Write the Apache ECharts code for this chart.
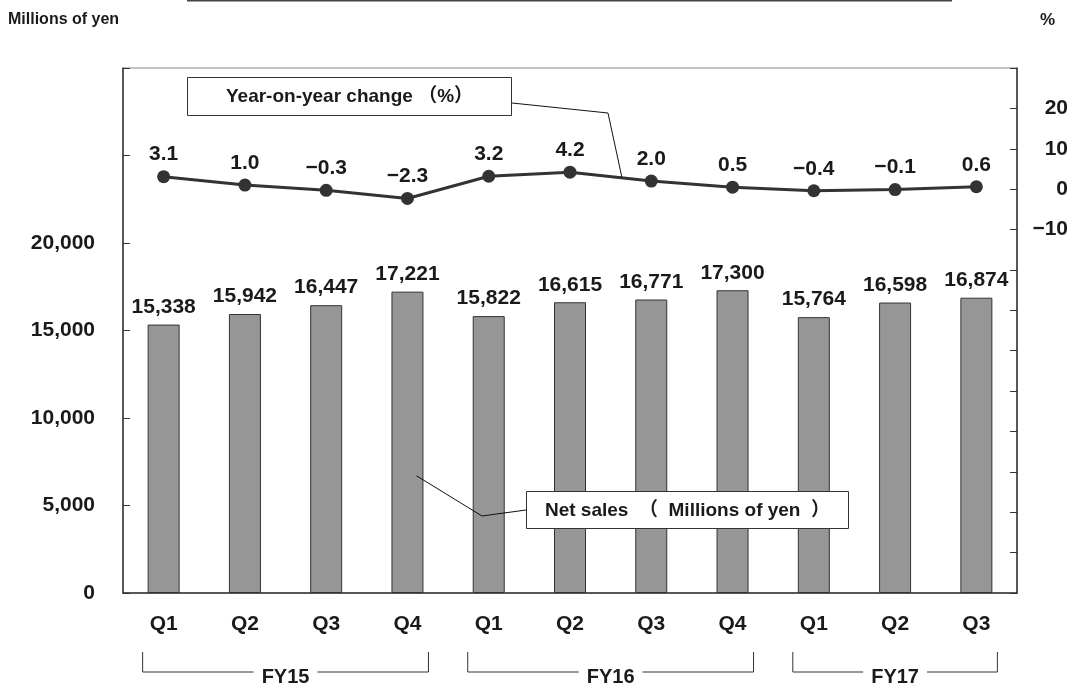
<!DOCTYPE html>
<html>
<head>
<meta charset="utf-8">
<title>Net sales and year-on-year change</title>
<script src="https://cdn.jsdelivr.net/npm/echarts@6/dist/echarts.min.js"></script>
<style>
  html, body { margin: 0; padding: 0; background: #fff; }
  #chart { width: 1067px; height: 695px; }
</style>
</head>
<body>
<div id="chart"></div>
<script>
// Quarterly net sales (millions of yen) and year-on-year change (%)
const quarters = ['Q1', 'Q2', 'Q3', 'Q4', 'Q1', 'Q2', 'Q3', 'Q4', 'Q1', 'Q2', 'Q3'];
const netSales = [15338, 15942, 16447, 17221, 15822, 16615, 16771, 17300, 15764, 16598, 16874];
const yoyChange = [3.1, 1.0, -0.3, -2.3, 3.2, 4.2, 2.0, 0.5, -0.4, -0.1, 0.6];

// Fiscal-year groups under the category axis: [first index, last index]
const fiscalYears = ['FY15', 'FY16', 'FY17'];
const fiscalSpans = [[0, 3], [4, 7], [8, 10]];

// Tick values that carry a label on each value axis
const salesTickLabels = [0, 5000, 10000, 15000, 20000];
const changeTickLabels = [-10, 0, 10, 20];

const FONT = "'Liberation Sans', Arial, 'Noto Sans CJK JP', sans-serif";
const INK = '#1a1a1a';
const LABEL_SIZE = 21;

const fmtSigned = (v, digits) => (v < 0 ? '\u2212' : '') + Math.abs(v).toFixed(digits);

const chart = echarts.init(document.getElementById('chart'), null, { renderer: 'canvas' });

chart.setOption({
  backgroundColor: '#fff',
  animation: false,
  textStyle: { fontFamily: FONT },
  grid: {
    left: 123, right: 50, top: 68, bottom: 102,
    containLabel: false, outerBoundsMode: 'none',
    show: true, borderColor: '#8a8a8a', borderWidth: 1, backgroundColor: '#fff'
  },
  xAxis: {
    type: 'category',
    data: quarters,
    boundaryGap: true,
    axisLine: { lineStyle: { color: '#333', width: 1.5 } },
    axisTick: { inside: true, length: 5, lineStyle: { color: '#333' } },
    axisLabel: { margin: 21, color: INK, fontSize: LABEL_SIZE, fontWeight: 'bold', fontFamily: FONT }
  },
  yAxis: [
    {
      type: 'value',
      min: 0, max: 30000, interval: 5000,
      splitLine: { show: false },
      axisLine: { show: true, lineStyle: { color: '#333', width: 1.5 } },
      axisTick: { show: true, inside: true, length: 7, lineStyle: { color: '#333' } },
      axisLabel: {
        margin: 28, color: INK, fontSize: LABEL_SIZE, fontWeight: 'bold', fontFamily: FONT,
        formatter: v => salesTickLabels.includes(v) ? v.toLocaleString('en-US') : ''
      }
    },
    {
      type: 'value',
      min: -100, max: 30, interval: 10,
      splitLine: { show: false },
      axisLine: { show: true, lineStyle: { color: '#333', width: 1.5 } },
      axisTick: { show: true, inside: true, length: 7, lineStyle: { color: '#333' } },
      axisLabel: {
        margin: 51, align: 'right', color: INK, fontSize: LABEL_SIZE, fontWeight: 'bold', fontFamily: FONT,
        formatter: v => changeTickLabels.includes(v) ? fmtSigned(v, 0) : ''
      }
    }
  ],
  series: [
    {
      name: 'Net sales',
      type: 'bar',
      data: netSales,
      barWidth: 32,
      itemStyle: { color: '#969696', borderColor: '#333', borderWidth: 1 },
      label: {
        show: true, position: 'top', distance: 7,
        color: INK, fontSize: LABEL_SIZE, fontWeight: 'bold', fontFamily: FONT,
        formatter: p => p.value.toLocaleString('en-US')
      },
      z: 2
    },
    {
      name: 'Year-on-year change',
      type: 'line',
      yAxisIndex: 1,
      data: yoyChange,
      symbol: 'circle',
      symbolSize: 13,
      lineStyle: { color: '#333', width: 3 },
      itemStyle: { color: '#333' },
      label: {
        show: true, position: 'top', distance: 5,
        color: INK, fontSize: LABEL_SIZE, fontWeight: 'bold', fontFamily: FONT,
        formatter: p => fmtSigned(p.value, 1)
      },
      z: 3
    }
  ]
});

// Annotations: axis units, callout boxes and fiscal-year brackets
const px = (i, v, axis) => chart.convertToPixel({ xAxisIndex: 0, yAxisIndex: axis }, [i, v]);
const graphics = [];

graphics.push({
  type: 'line', shape: { x1: 187, y1: 0.5, x2: 952, y2: 0.5 },
  style: { stroke: '#444', lineWidth: 2 }
});
graphics.push({
  type: 'text', x: 8, y: 20,
  style: { text: 'Millions of yen', fill: INK, font: `bold 16px ${FONT}`, verticalAlign: 'middle' }
});
graphics.push({
  type: 'text', x: 1040, y: 20,
  style: { text: '%', fill: INK, font: `bold 17px ${FONT}`, verticalAlign: 'middle' }
});

// Callout for the change line: points between the 6th and 7th markers
const pA = px(5, yoyChange[5], 1), pB = px(6, yoyChange[6], 1);
const t = 0.64;
const lineTarget = [pA[0] + (pB[0] - pA[0]) * t, pA[1] + (pB[1] - pA[1]) * t];
graphics.push({
  type: 'polyline', z: 10,
  shape: { points: [[512, 103], [608, 113], lineTarget] },
  style: { stroke: '#111', lineWidth: 1, fill: null }
});
graphics.push({
  type: 'rect', z: 11, shape: { x: 187.5, y: 77.5, width: 324, height: 38 },
  style: { fill: '#fff', stroke: '#333', lineWidth: 1 }
});
graphics.push({
  type: 'text', z: 12, x: 349.5, y: 97,
  style: { text: 'Year-on-year change （%）', fill: INK, font: `bold 19px ${FONT}`, align: 'center', verticalAlign: 'middle' }
});

// Callout for the bars: points into the fourth bar
const barPt = px(3, 6700, 0);
const barTarget = [barPt[0] + 9, barPt[1]];
graphics.push({
  type: 'polyline', z: 10,
  shape: { points: [[526, 510], [482, 516], barTarget] },
  style: { stroke: '#111', lineWidth: 1, fill: null }
});
graphics.push({
  type: 'rect', z: 11, shape: { x: 526.5, y: 491.5, width: 322, height: 37 },
  style: { fill: '#fff', stroke: '#333', lineWidth: 1 }
});
graphics.push({
  type: 'text', z: 12, x: 687.5, y: 511,
  style: { text: 'Net sales  （  Millions of yen  ）', fill: INK, font: `bold 19px ${FONT}`, align: 'center', verticalAlign: 'middle' }
});

// Fiscal-year brackets below the quarter labels
const bracketTop = 652, bracketBottom = 672, bracketPad = 21;
fiscalSpans.forEach((span, k) => {
  const x0 = px(span[0], 0, 0)[0] - bracketPad;
  const x1 = px(span[1], 0, 0)[0] + bracketPad;
  graphics.push({
    type: 'polyline', z: 5,
    shape: { points: [[x0, bracketTop], [x0, bracketBottom], [x1, bracketBottom], [x1, bracketTop]] },
    style: { stroke: '#333', lineWidth: 1, fill: null }
  });
  graphics.push({
    type: 'text', z: 6, x: (x0 + x1) / 2, y: 677,
    style: {
      text: fiscalYears[k], fill: INK, font: `bold 20px ${FONT}`,
      align: 'center', verticalAlign: 'middle',
      backgroundColor: '#fff', padding: [0, 8]
    }
  });
});

chart.setOption({ graphic: graphics });
</script>
</body>
</html>
